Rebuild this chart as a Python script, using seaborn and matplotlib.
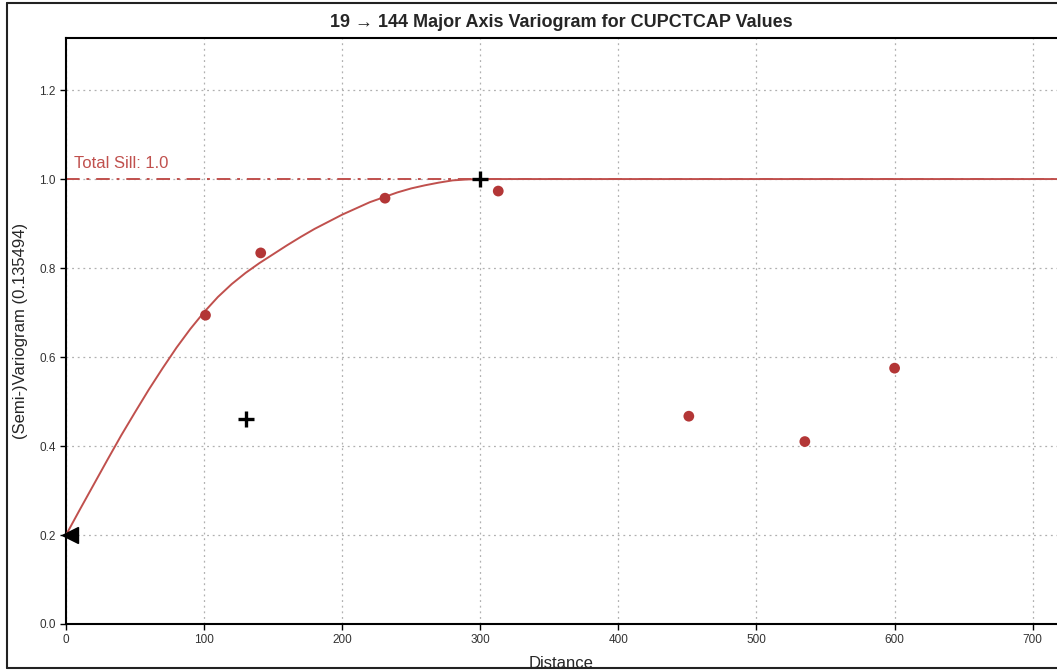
import numpy as np
import pandas as pd
import seaborn as sns
import matplotlib
matplotlib.use("Agg")
import matplotlib.pyplot as plt
from matplotlib.lines import Line2D

# experimental variogram points (lag distance, semi-variogram)
lag_dist = [101, 141, 231, 313, 451, 535, 600]
lag_gamma = [0.694, 0.834, 0.957, 0.973, 0.467, 0.410, 0.575]

# fitted model curve
model_dist = [0, 10, 20, 30, 40, 50, 60, 70, 80, 90, 100, 110, 120, 130, 140,
              150, 160, 170, 180, 190, 200, 210, 220, 230, 240, 250, 260, 270,
              280, 290, 300, 720]
model_gamma = [0.200, 0.257, 0.313, 0.369, 0.424, 0.476, 0.527, 0.575, 0.621,
               0.663, 0.701, 0.735, 0.764, 0.789, 0.811, 0.831, 0.851, 0.870,
               0.888, 0.904, 0.920, 0.934, 0.948, 0.959, 0.970, 0.979, 0.986,
               0.992, 0.997, 0.999, 1.000, 1.000]

# structure markers
nugget = 0.2
struct_range = [130, 300]
struct_sill = [0.46, 1.0]
total_sill = 1.0

red_pts = "#b33636"
red_line = "#c0504d"

sns.set_style("white")
plt.rcParams['font.family'] = ['Liberation Sans', 'DejaVu Sans']

fig = plt.figure(figsize=(10.57, 6.71), dpi=100)
ax = fig.add_axes([66 / 1057, 47 / 671, 991 / 1057, 586 / 671])

pts = pd.DataFrame({'dist': lag_dist, 'gamma': lag_gamma})
model = pd.DataFrame({'dist': model_dist, 'gamma': model_gamma})

sill_line = ax.axhline(total_sill, color=red_line, lw=1.4, zorder=2)
sill_line.set_dashes([7, 3.5, 1.5, 3.5])
sns.lineplot(data=model, x='dist', y='gamma', color=red_line, lw=1.4,
             estimator=None, sort=False, ax=ax, zorder=3)
sns.scatterplot(data=pts, x='dist', y='gamma', color=red_pts, s=60,
                edgecolor='none', ax=ax, zorder=4)
ax.plot(struct_range, struct_sill, ls='none', marker='+', color='black',
        markersize=11, mew=2.4, zorder=5)
ax.plot([3], [nugget], ls='none', marker='<', color='black', markersize=11,
        zorder=5, clip_on=False)

ax.text(6, total_sill + 0.018, "Total Sill: 1.0", color=red_line, fontsize=12,
        ha='left', va='bottom')

ax.set_xlim(0, 717.6)
ax.set_ylim(0, 1.317)
ax.set_xticks([0, 100, 200, 300, 400, 500, 600, 700])
ax.set_yticks([0.0, 0.2, 0.4, 0.6, 0.8, 1.0, 1.2])
ax.grid(True, ls=(0, (1.5, 3)), color='#b0b0b0', lw=0.9)
ax.tick_params(axis='both', labelsize=8.5, direction='out', length=4, width=1,
               bottom=True, left=True, color='black', labelcolor='#333333')
for s in ['left', 'bottom', 'top']:
    ax.spines[s].set_color('black')
    ax.spines[s].set_linewidth(1.5)
ax.spines['right'].set_visible(False)

ax.set_xlabel("Distance", fontsize=12, labelpad=7)
ax.set_ylabel("(Semi-)Variogram (0.135494)", fontsize=12, labelpad=8)
ax.set_title("19 \u2192 144 Major Axis Variogram for CUPCTCAP Values", fontsize=13,
             fontweight='bold', pad=8)

# figure frame
for xs, ys in [([7 / 1057, 7 / 1057], [3 / 671, 668 / 671]),
               ([7 / 1057, 1.0], [668 / 671, 668 / 671]),
               ([7 / 1057, 1.0], [3 / 671, 3 / 671])]:
    fig.add_artist(Line2D(xs, [1 - y for y in ys], color='#222222', lw=1.5))

fig.savefig("out.png", dpi=100)
